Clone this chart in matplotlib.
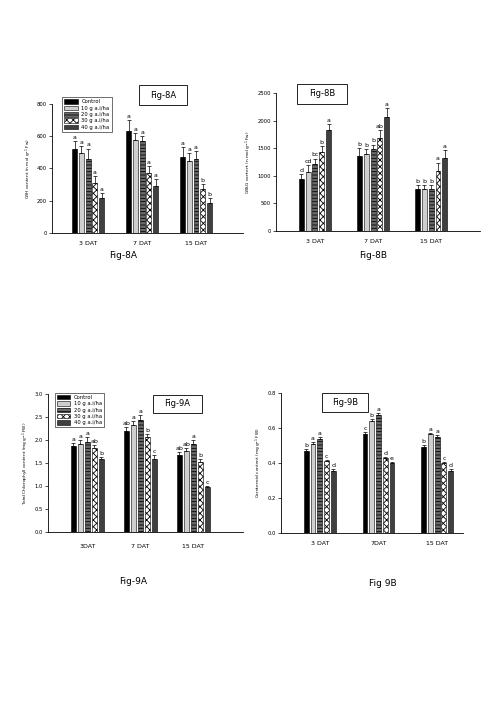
import numpy as np
import matplotlib
matplotlib.use("Agg")
import matplotlib.pyplot as plt
from matplotlib.patches import Rectangle

plt.rcParams['hatch.linewidth'] = 0.6

days = ["3 DAT", "7 DAT", "15 DAT"]
days_9b = ["3 DAT", "7DAT", "15 DAT"]
days_9a = ["3DAT", "7 DAT", "15 DAT"]
doses = ["Control", "10 g a.i/ha", "20 g a.i/ha", "30 g a.i/ha", "40 g a.i/ha"]

# Fig-8A GSH (rows = doses, cols = days)
gsh = [[518, 634, 470], [495, 578, 443], [458, 572, 460], [309, 371, 271], [215, 292, 184]]
gsh_err = [[50, 65, 60], [45, 40, 55], [65, 30, 50], [45, 45, 32], [30, 40, 30]]
gsh_let = [["a", "a", "a"], ["a", "a", "a"], ["a", "a", "a"], ["a", "a", "b"], ["a", "a", "b"]]

# Fig-8B GSSG
gssg = [[940, 1355, 753], [1060, 1392, 753], [1223, 1482, 765], [1434, 1687, 1096], [1825, 2066, 1325]]
gssg_err = [[90, 150, 85], [130, 100, 80], [90, 85, 65], [100, 150, 145], [120, 170, 150]]
gssg_let = [["d", "b", "b"], ["cd", "b", "b"], ["bc", "b", "b"], ["b", "ab", "a"], ["a", "a", "a"]]

# Fig-9A total chlorophyll
chl = [[1.87, 2.21, 1.67], [1.91, 2.34, 1.76], [1.97, 2.45, 1.91], [1.82, 2.06, 1.52], [1.58, 1.59, 0.98]]
chl_err = [[0.06, 0.07, 0.07], [0.1, 0.08, 0.06], [0.1, 0.09, 0.1], [0.08, 0.07, 0.07], [0.06, 0.09, 0.03]]
chl_let = [["a", "ab", "ab"], ["a", "a", "ab"], ["a", "a", "a"], ["ab", "b", "b"], ["b", "c", "c"]]

# Fig-9B carotenoid
car = [[0.469, 0.565, 0.494], [0.507, 0.641, 0.566], [0.540, 0.676, 0.551], [0.411, 0.430, 0.398], [0.356, 0.402, 0.356]]
car_err = [[0.011, 0.013, 0.009], [0.013, 0.010, 0.008], [0.010, 0.011, 0.010], [0.006, 0.006, 0.008], [0.008, 0.006, 0.008]]
car_let = [["b", "c", "b"], ["a", "b", "a"], ["a", "a", "a"], ["c", "d", "c"], ["d", "e", "d"]]

styles = [
    dict(color="black", hatch=None),
    dict(color="#cfcfcf", hatch=None),
    dict(color="#6a6a6a", hatch="-----"),
    dict(color="white", hatch="xxxxx"),
    dict(color="#404040", hatch=None),
]

fig = plt.figure(figsize=(5, 7.06), dpi=100)


def panel(rect, vals, errs, lets, labels, ylim, yticks, ylabel, xlim, slot, fmt, xpad=6):
    ax = fig.add_axes(rect)
    x = np.arange(len(labels))
    bw = slot * 0.72
    for i in range(len(doses)):
        pos = x + (i - 2) * slot
        st = styles[i]
        ax.bar(pos, vals[i], bw, color=st["color"], hatch=st["hatch"],
               edgecolor="black", linewidth=0.4, label=doses[i])
        ax.errorbar(pos, vals[i], yerr=[np.zeros(3), errs[i]], fmt="none",
                    ecolor="black", elinewidth=0.5, capsize=1.3, capthick=0.5)
        for p, v, e, t in zip(pos, vals[i], errs[i], lets[i]):
            ax.text(p, v + e + (ylim[1] * 0.008), t, ha="center", va="bottom", fontsize=4.5)
    ax.set_xlim(*xlim)
    ax.set_ylim(*ylim)
    ax.set_yticks(yticks)
    ax.set_yticklabels([fmt.format(t) for t in yticks], fontsize=3.8)
    ax.set_xticks(x)
    ax.set_xticklabels(labels, fontsize=4.5)
    ax.tick_params(axis="x", length=0, pad=xpad)
    ax.tick_params(axis="y", length=2, width=0.5, pad=1.5)
    ax.set_ylabel(ylabel, fontsize=3.1, labelpad=2.5)
    for s in ["top", "right"]:
        ax.spines[s].set_visible(False)
    for s in ["left", "bottom"]:
        ax.spines[s].set_linewidth(0.6)
    return ax


ax1 = panel([0.104, 0.670, 0.382, 0.183], gsh, gsh_err, gsh_let, days, (0, 800),
            [0, 200, 400, 600, 800], "GSH content (n mol g$^{-1}$ Fw)", (-0.67, 2.87), 0.125, "{:.0f}")
ax2 = panel([0.552, 0.673, 0.408, 0.195], gssg, gssg_err, gssg_let, days, (0, 2500),
            [0, 500, 1000, 1500, 2000, 2500], "GSSG content (n mol g$^{-1}$ Fw)", (-0.67, 2.84), 0.117, "{:.0f}")
ax3 = panel([0.096, 0.2465, 0.39, 0.195], chl, chl_err, chl_let, days_9a, (0, 3.0),
            [0, 0.5, 1.0, 1.5, 2.0, 2.5, 3.0], "Total Chlorophyll content (mg g$^{-1}$ FW)", (-0.74, 2.94), 0.132,
            "{:.1f}", xpad=9)
ax4 = panel([0.562, 0.245, 0.364, 0.198], car, car_err, car_let, days_9b, (0, 0.8),
            [0, 0.2, 0.4, 0.6, 0.8], "Carotenoid content (mg g$^{-1}$ FW)", (-0.66, 2.44), 0.115, "{:.1f}")

# legends
for ax, loc in [(ax1, (0.04, 1.07)), (ax3, (0.02, 1.03))]:
    ax.legend(loc="upper left", bbox_to_anchor=loc, fontsize=3.8, frameon=True, fancybox=False,
              edgecolor="black", handlelength=2.6, handleheight=0.9, borderpad=0.4,
              labelspacing=0.25, handletextpad=0.6).get_frame().set_linewidth(0.5)


def px(x, y):
    return x / 500, 1 - y / 706


# boxed panel titles: text, (x0, x1, y0, y1) in pixels
titles = [("Fig-8A", (139, 187, 85, 105)), ("Fig-8B", (297, 347, 84, 104)),
          ("Fig-9A", (153, 202, 395, 413)), ("Fig-9B", (322, 368, 393, 412))]
for t, (x0, x1, y0, y1) in titles:
    fx0, fy1 = px(x0, y1)
    fig.patches.append(Rectangle((fx0, fy1), (x1 - x0) / 500, (y1 - y0) / 706, transform=fig.transFigure,
                                 facecolor="white", edgecolor="black", linewidth=0.6, zorder=5))
    fig.text(*px((x0 + x1) / 2, (y0 + y1) / 2), t, fontsize=6, ha="center", va="center", zorder=6)

for t, (x, y) in [("Fig-8A", (123, 255)), ("Fig-8B", (373, 255)), ("Fig-9A", (133, 582)), ("Fig 9B", (383, 584))]:
    fig.text(*px(x, y), t, fontsize=6.5, ha="center", va="center")

fig.savefig("out.png", dpi=100)
